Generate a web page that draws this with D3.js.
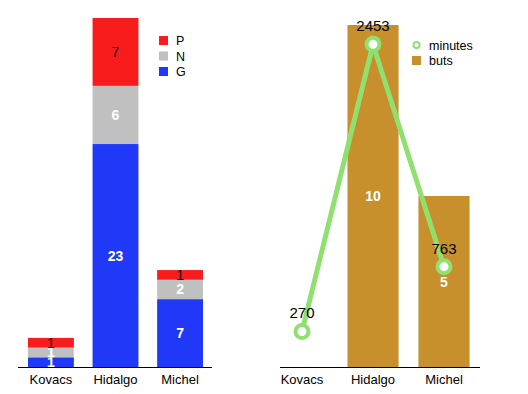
<!DOCTYPE html>
<html>
<head>
<meta charset="utf-8">
<script src="https://cdn.jsdelivr.net/npm/d3@7"></script>
<style>
body { margin: 0; background: #fff; }
text { font-family: 'Liberation Sans', Arial, sans-serif; }
</style>
</head>
<body>
<div id="container"></div>
<script>
/* DATA */
var players = ['Kovacs', 'Hidalgo', 'Michel']
var G = [1, 23, 7]
var N = [1, 6, 2]
var P = [1, 7, 1]
var buts = [0, 10, 5]
var minutes = [270, 2453, 763]

var colors = { G: '#2038f8', N: '#c0c0c0', P: '#f81c1c' }
var gold = '#c8902c'
var green = '#90e070'

var svg = d3.select('#container').append('svg')
  .attr('width', 528).attr('height', 394)

/* LEFT: stacked bars */
var base = 367
var xL = d3.scaleBand().domain(players).range([18, 213]).paddingInner(0.29).paddingOuter(0.155)
var yL = d3.scaleLinear().domain([0, 36]).range([base, 18])

var rows = players.map(function(p, i) { return { name: p, G: G[i], N: N[i], P: P[i] } })
var stack = d3.stack().keys(['G', 'N', 'P'])(rows)

var gL = svg.append('g')
stack.forEach(function(layer) {
  var key = layer.key
  gL.selectAll('rect.' + key).data(layer).enter().append('rect')
    .attr('x', function(d) { return xL(d.data.name) })
    .attr('width', xL.bandwidth())
    .attr('y', function(d) { return yL(d[1]) })
    .attr('height', function(d) { return yL(d[0]) - yL(d[1]) })
    .attr('fill', colors[key])
  gL.selectAll('text.' + key).data(layer).enter().append('text')
    .attr('x', function(d) { return xL(d.data.name) + xL.bandwidth() / 2 })
    .attr('y', function(d) { return (yL(d[0]) + yL(d[1])) / 2 + 5 })
    .attr('text-anchor', 'middle')
    .attr('font-size', 14)
    .attr('font-weight', key == 'P' ? 'normal' : 'bold')
    .attr('fill', key == 'P' ? '#000' : '#fff')
    .text(function(d) { return d[1] - d[0] })
})

var axL = svg.append('g').attr('transform', 'translate(0,' + base + ')')
  .call(d3.axisBottom(xL).tickSize(0).tickPadding(8))
axL.select('.domain').attr('d', 'M18,0.5H212').attr('stroke', '#000')
axL.selectAll('text').attr('font-size', 13).attr('font-family', 'Liberation Sans, Arial, sans-serif')

// legend left
var legL = svg.append('g').attr('transform', 'translate(159,36)')
;['P', 'N', 'G'].forEach(function(k, i) {
  legL.append('rect').attr('x', 0).attr('y', i * 15.5).attr('width', 9).attr('height', 9).attr('fill', colors[k])
  legL.append('text').attr('x', 17).attr('y', i * 15.5 + 9).attr('font-size', 12.5).text(k)
})

/* RIGHT: bars + line */
var xR = d3.scaleBand().domain(players).range([266.5, 479.5]).paddingInner(0.28).paddingOuter(0.14)
var yB = d3.scaleLinear().domain([0, 10]).range([base, 25])
var yM = d3.scaleLinear().domain([0, 2600]).range([base, 25])

var gR = svg.append('g')
gR.selectAll('rect').data(buts).enter().append('rect')
  .attr('x', function(d, i) { return xR(players[i]) })
  .attr('width', xR.bandwidth())
  .attr('y', function(d) { return yB(d) })
  .attr('height', function(d) { return base - yB(d) })
  .attr('fill', gold)

var cx = function(i) { return xR(players[i]) + xR.bandwidth() / 2 }
gR.selectAll('text.b').data(buts).enter().append('text')
  .attr('x', function(d, i) { return cx(i) })
  .attr('y', function(d) { return (yB(d) + base) / 2 + 5 })
  .attr('text-anchor', 'middle').attr('font-size', 14).attr('font-weight', 'bold').attr('fill', '#fff')
  .text(function(d) { return d > 0 ? d : '' })

var line = d3.line().x(function(d, i) { return cx(i) }).y(function(d) { return yM(d) })
gR.append('path').datum(minutes).attr('d', line)
  .attr('fill', 'none').attr('stroke', green).attr('stroke-width', 5)
gR.selectAll('circle').data(minutes).enter().append('circle')
  .attr('cx', function(d, i) { return cx(i) }).attr('cy', function(d) { return yM(d) })
  .attr('r', 6.5).attr('fill', '#fff').attr('stroke', green).attr('stroke-width', 4)
gR.selectAll('text.m').data(minutes).enter().append('text')
  .attr('x', function(d, i) { return cx(i) }).attr('y', function(d) { return yM(d) - 13 })
  .attr('text-anchor', 'middle').attr('font-size', 15).attr('fill', '#000')
  .text(function(d) { return d })

var axR = svg.append('g').attr('transform', 'translate(0,' + base + ')')
  .call(d3.axisBottom(xR).tickSize(0).tickPadding(8))
axR.select('.domain').attr('d', 'M280,0.5H480').attr('stroke', '#000')
axR.selectAll('text').attr('font-size', 13).attr('font-family', 'Liberation Sans, Arial, sans-serif')

// legend right
var legR = svg.append('g').attr('transform', 'translate(412,40)')
legR.append('circle').attr('cx', 4.5).attr('cy', 5).attr('r', 3).attr('fill', '#fff').attr('stroke', green).attr('stroke-width', 2)
legR.append('text').attr('x', 17).attr('y', 9.5).attr('font-size', 12.5).text('minutes')
legR.append('rect').attr('x', 0).attr('y', 16).attr('width', 9).attr('height', 9).attr('fill', gold)
legR.append('text').attr('x', 17).attr('y', 25).attr('font-size', 12.5).text('buts')
</script>
</body>
</html>
